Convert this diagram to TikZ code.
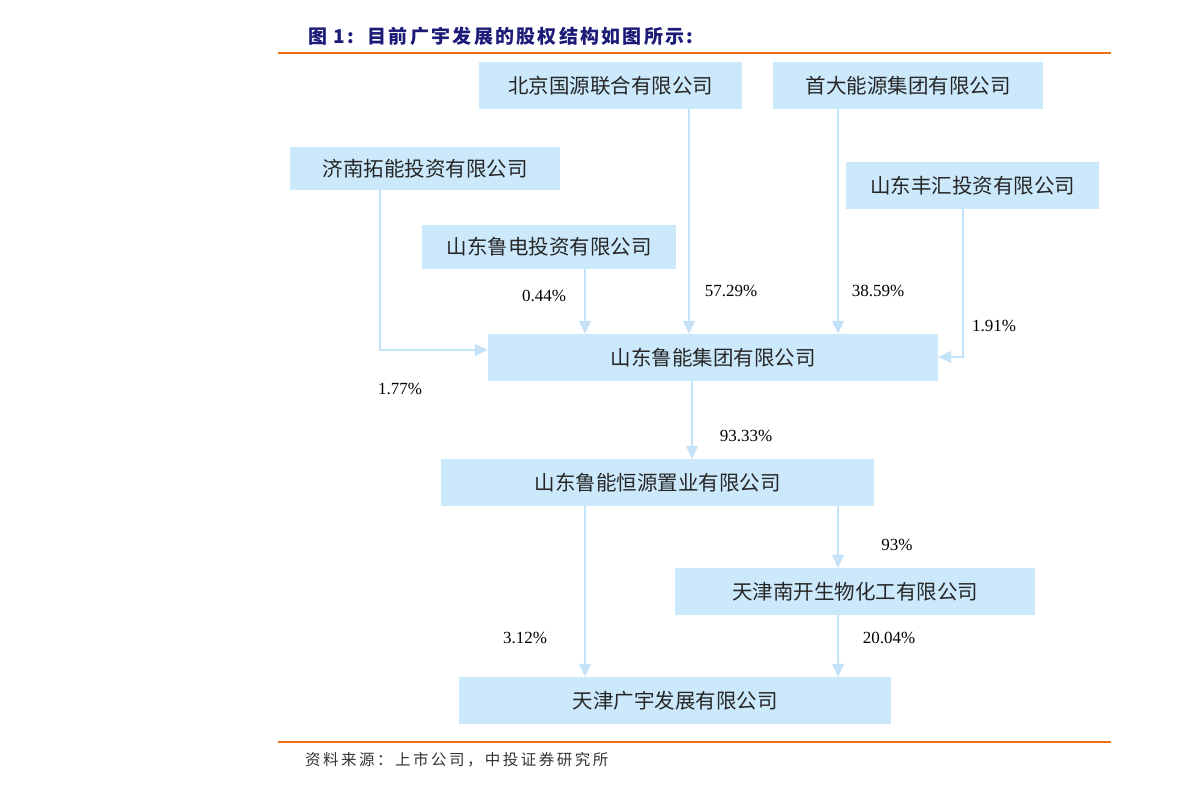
\documentclass[tikz,border=0pt]{standalone}
\usepackage{fontspec}
\setmainfont{Liberation Serif}
\newfontfamily\cjk{Noto Sans CJK SC}
\newfontfamily\cjktitle[LetterSpace=12]{Noto Sans CJK SC}
\newfontfamily\cjksrc[LetterSpace=16]{Noto Sans CJK SC}
\usetikzlibrary{arrows.meta}
\definecolor{boxfill}{RGB}{204,233,252}
\definecolor{arrcol}{RGB}{196,226,248}
\definecolor{titleblue}{RGB}{28,28,120}
\definecolor{rulecol}{RGB}{240,110,20}
\tikzset{
  box/.style={fill=boxfill, draw=none, inner sep=0pt, font=\cjk\fontsize{20.5}{24}\selectfont, text=black!85},
  arr/.style={draw=arrcol, line width=1.4pt, -{Triangle[length=13pt,width=12pt]}},
  pct/.style={font=\fontsize{17}{20}\selectfont, text=black, inner sep=0pt}
}
\begin{document}
\begin{tikzpicture}[x=1pt,y=-1pt]
\useasboundingbox (0,0) rectangle (1191,789);
% title and rules
\node[anchor=west, inner sep=0pt, font=\cjktitle\bfseries\fontsize{19}{22}\selectfont, text=titleblue] (title) at (308,36) {图 1:\ \ 目前广宇发展的股权结构如图所示:};
\draw[rulecol, line width=2.2pt] (278,53) -- (1111,53);
\draw[rulecol, line width=2.2pt] (278,742) -- (1111,742);
\node[anchor=west, inner sep=0pt, font=\cjksrc\fontsize{15.5}{18}\selectfont, text=black!80] (src) at (305,760) {资料来源：上市公司，中投证券研究所};
% boxes
\node[box, minimum width=263pt, minimum height=47pt] (bj) at (610.5,85.5) {北京国源联合有限公司};
\node[box, minimum width=270pt, minimum height=47pt] (sd) at (908,85.5) {首大能源集团有限公司};
\node[box, minimum width=270pt, minimum height=43pt] (jn) at (425,168.5) {济南拓能投资有限公司};
\node[box, minimum width=253pt, minimum height=47pt] (fh) at (972.5,185.5) {山东丰汇投资有限公司};
\node[box, minimum width=254pt, minimum height=44pt] (ld) at (549,247) {山东鲁电投资有限公司};
\node[box, minimum width=450pt, minimum height=47pt] (ln) at (713,357.5) {山东鲁能集团有限公司};
\node[box, minimum width=433pt, minimum height=47pt] (hy) at (657.5,482.5) {山东鲁能恒源置业有限公司};
\node[box, minimum width=360pt, minimum height=47pt] (nk) at (855,591.5) {天津南开生物化工有限公司};
\node[box, minimum width=432pt, minimum height=47pt] (gy) at (675,700.5) {天津广宇发展有限公司};
% connectors
\coordinate (jnc) at (380,350);
\coordinate (fhc) at (963,357);
\draw[arr] (689,0 |- bj.south) -- (689,0 |- ln.north);
\draw[arr] (838,0 |- sd.south) -- (838,0 |- ln.north);
\draw[arr] (585,0 |- ld.south) -- (585,0 |- ln.north);
\draw[arr] (380,0 |- jn.south) -- (jnc) -- (jnc -| ln.west);
\draw[arr] (963,0 |- fh.south) -- (fhc) -- (fhc -| ln.east);
\draw[arr] (692,0 |- ln.south) -- (692,0 |- hy.north);
\draw[arr] (838,0 |- hy.south) -- (838,0 |- nk.north);
\draw[arr] (585,0 |- hy.south) -- (585,0 |- gy.north);
\draw[arr] (838,0 |- nk.south) -- (838,0 |- gy.north);
% labels
\node[pct] (p1) at (731,291) {57.29\%};
\node[pct] (p2) at (878,291) {38.59\%};
\node[pct] (p3) at (544,296) {0.44\%};
\node[pct] (p4) at (400,389) {1.77\%};
\node[pct] (p5) at (994,326) {1.91\%};
\node[pct] (p6) at (746,436) {93.33\%};
\node[pct] (p7) at (897,545) {93\%};
\node[pct] (p8) at (525,638) {3.12\%};
\node[pct] (p9) at (889,638) {20.04\%};
\end{tikzpicture}
\end{document}
